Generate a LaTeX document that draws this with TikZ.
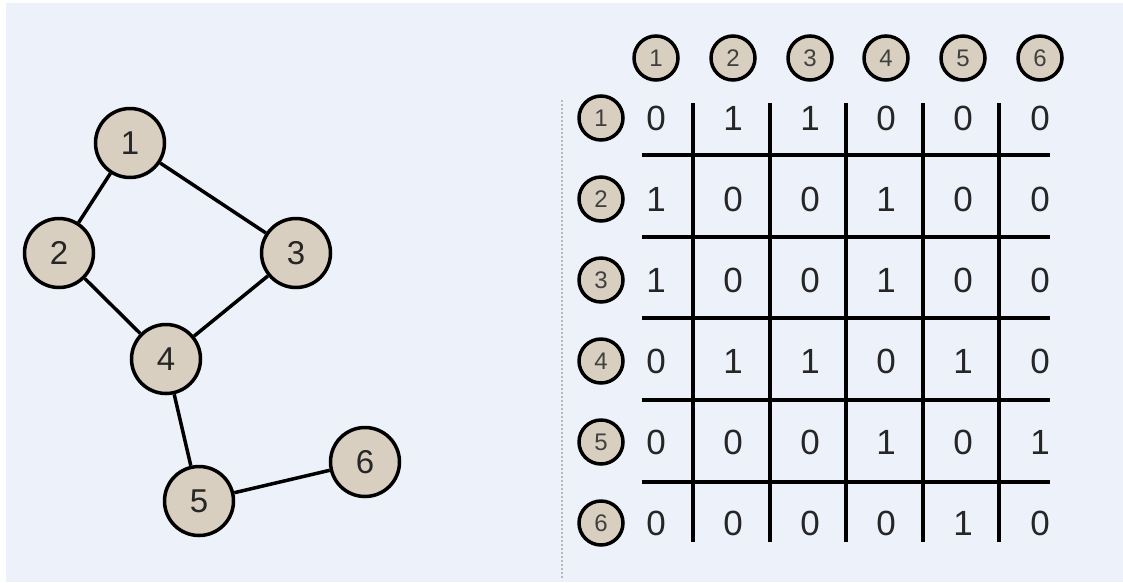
\documentclass[tikz,border=0pt]{standalone}
\usepackage{fontspec}
\setmainfont{Liberation Sans}
\usepackage{tikz}
\usetikzlibrary{shapes}
\definecolor{panel}{HTML}{EDF1FA}
\definecolor{vfill}{HTML}{D8CFC0}

\begin{document}
\begin{tikzpicture}[x=1pt,y=-1pt,
    vtx/.style={circle,draw,line width=3.5pt,fill=vfill,minimum size=69pt,inner sep=0pt,
      text=black!85,font=\fontsize{33}{33}\selectfont},
    hdr/.style={circle,draw,line width=3.5pt,fill=vfill,minimum size=44pt,inner sep=0pt,
      text=black!75,font=\fontsize{24}{24}\selectfont},
    cell/.style={inner sep=0pt,text=black!85,font=\fontsize{35}{35}\selectfont},
    rule/.style={line width=3.2pt,black}]
      \useasboundingbox (0,0) rectangle (1123,582);
      \fill[panel] (6,3) rectangle (1123,582);
      % the graph
      \node [vtx] (v1) at (130,143) {1};
      \node [vtx] (v2) at (59,253) {2};
      \node [vtx] (v3) at (296,253) {3};
      \node [vtx] (v4) at (166,359) {4};
      \node [vtx] (v5) at (199,501) {5};
      \node [vtx] (v6) at (365,462) {6};
      \path [line width=3.5pt]
      (v1) edge (v2)
      (v1) edge (v3)
      (v2) edge (v4)
      (v3) edge (v4)
      (v4) edge (v5)
      (v5) edge (v6)
      ;
      \draw [gray!55,dotted,line width=2pt] (562,100) -- (562,580);
      % column heads
      \node [hdr] (h1) at (656,58) {1};
      \node [hdr] (h2) at (733,58) {2};
      \node [hdr] (h3) at (810,58) {3};
      \node [hdr] (h4) at (886,58) {4};
      \node [hdr] (h5) at (963,58) {5};
      \node [hdr] (h6) at (1040,58) {6};
      % row heads
      \node [hdr] (r1) at (601,118) {1};
      \node [hdr] (r2) at (601,199) {2};
      \node [hdr] (r3) at (601,280) {3};
      \node [hdr] (r4) at (601,361) {4};
      \node [hdr] (r5) at (601,442) {5};
      \node [hdr] (r6) at (601,523) {6};
      % the matrix
      \node [cell] (c11) at (656,118) {0}; \node [cell] (c12) at (733,118) {1}; \node [cell] (c13) at (810,118) {1};
      \node [cell] (c14) at (886,118) {0}; \node [cell] (c15) at (963,118) {0}; \node [cell] (c16) at (1040,118) {0};
      \node [cell] (c21) at (656,199) {1}; \node [cell] (c22) at (733,199) {0}; \node [cell] (c23) at (810,199) {0};
      \node [cell] (c24) at (886,199) {1}; \node [cell] (c25) at (963,199) {0}; \node [cell] (c26) at (1040,199) {0};
      \node [cell] (c31) at (656,280) {1}; \node [cell] (c32) at (733,280) {0}; \node [cell] (c33) at (810,280) {0};
      \node [cell] (c34) at (886,280) {1}; \node [cell] (c35) at (963,280) {0}; \node [cell] (c36) at (1040,280) {0};
      \node [cell] (c41) at (656,361) {0}; \node [cell] (c42) at (733,361) {1}; \node [cell] (c43) at (810,361) {1};
      \node [cell] (c44) at (886,361) {0}; \node [cell] (c45) at (963,361) {1}; \node [cell] (c46) at (1040,361) {0};
      \node [cell] (c51) at (656,442) {0}; \node [cell] (c52) at (733,442) {0}; \node [cell] (c53) at (810,442) {0};
      \node [cell] (c54) at (886,442) {1}; \node [cell] (c55) at (963,442) {0}; \node [cell] (c56) at (1040,442) {1};
      \node [cell] (c61) at (656,523) {0}; \node [cell] (c62) at (733,523) {0}; \node [cell] (c63) at (810,523) {0};
      \node [cell] (c64) at (886,523) {0}; \node [cell] (c65) at (963,523) {1}; \node [cell] (c66) at (1040,523) {0};
      % rules
      \draw [rule] (693,103) -- (693,542);
      \draw [rule] (770,103) -- (770,542);
      \draw [rule] (846,103) -- (846,542);
      \draw [rule] (923,103) -- (923,542);
      \draw [rule] (999,103) -- (999,542);
      \draw [rule] (642,155) -- (1050,155);
      \draw [rule] (642,237) -- (1050,237);
      \draw [rule] (642,318) -- (1050,318);
      \draw [rule] (642,400) -- (1050,400);
      \draw [rule] (642,482) -- (1050,482);
\end{tikzpicture}
\end{document}
